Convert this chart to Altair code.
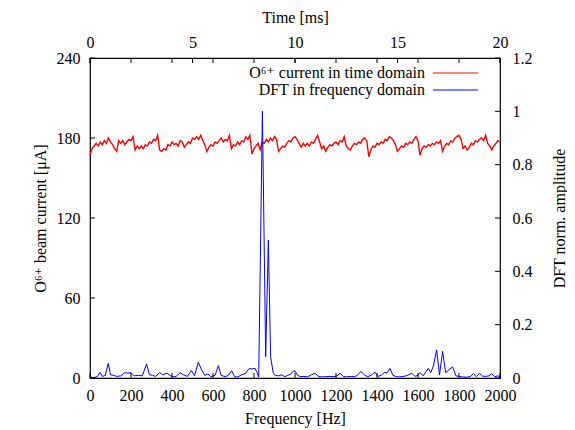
import altair as alt
import pandas as pd

# ---- data ----
time_ms = [
    0.0, 0.1, 0.2, 0.3, 0.4, 0.5, 0.6, 0.7, 0.8, 0.9,
    1.0, 1.1, 1.2, 1.3, 1.4, 1.5, 1.6, 1.7, 1.8, 1.9,
    2.0, 2.1, 2.2, 2.3, 2.4, 2.5, 2.6, 2.7, 2.8, 2.9,
    3.0, 3.1, 3.2, 3.3, 3.4, 3.5, 3.6, 3.7, 3.8, 3.9,
    4.0, 4.1, 4.2, 4.3, 4.4, 4.5, 4.6, 4.7, 4.8, 4.9,
    5.0, 5.1, 5.2, 5.3, 5.4, 5.5, 5.6, 5.7, 5.8, 5.9,
    6.0, 6.1, 6.2, 6.3, 6.4, 6.5, 6.6, 6.7, 6.8, 6.9,
    7.0, 7.1, 7.2, 7.3, 7.4, 7.5, 7.6, 7.7, 7.8, 7.9,
    8.0, 8.1, 8.2, 8.3, 8.4, 8.5, 8.6, 8.7, 8.8, 8.9,
    9.0, 9.1, 9.2, 9.3, 9.4, 9.5, 9.6, 9.7, 9.8, 9.9,
    10.0, 10.1, 10.2, 10.3, 10.4, 10.5, 10.6, 10.7, 10.8, 10.9,
    11.0, 11.1, 11.2, 11.3, 11.4, 11.5, 11.6, 11.7, 11.8, 11.9,
    12.0, 12.1, 12.2, 12.3, 12.4, 12.5, 12.6, 12.7, 12.8, 12.9,
    13.0, 13.1, 13.2, 13.3, 13.4, 13.5, 13.6, 13.7, 13.8, 13.9,
    14.0, 14.1, 14.2, 14.3, 14.4, 14.5, 14.6, 14.7, 14.8, 14.9,
    15.0, 15.1, 15.2, 15.3, 15.4, 15.5, 15.6, 15.7, 15.8, 15.9,
    16.0, 16.1, 16.2, 16.3, 16.4, 16.5, 16.6, 16.7, 16.8, 16.9,
    17.0, 17.1, 17.2, 17.3, 17.4, 17.5, 17.6, 17.7, 17.8, 17.9,
    18.0, 18.1, 18.2, 18.3, 18.4, 18.5, 18.6, 18.7, 18.8, 18.9,
    19.0, 19.1, 19.2, 19.3, 19.4, 19.5, 19.6, 19.7, 19.8, 19.9,
    20.0,
]
current_uA = [
    167, 172, 174, 176, 174, 177, 175, 178, 176, 180,
    177, 175, 172, 170, 178, 176, 178, 175, 177, 179,
    178, 181, 171, 174, 172, 174, 172, 175, 174, 177,
    176, 179, 178, 182, 171, 170, 172, 171, 175, 174,
    177, 175, 176, 174, 178, 177, 173, 175, 177, 176,
    180, 179, 181, 179, 182, 178, 175, 170, 173, 175,
    174, 177, 176, 178, 180, 177, 179, 178, 182, 172,
    175, 174, 177, 175, 178, 177, 181, 179, 182, 168,
    172, 174, 176, 171, 177, 176, 179, 177, 180, 178,
    181, 179, 170, 172, 174, 173, 176, 178, 177, 180,
    181, 179, 176, 173, 176, 174, 176, 174, 177, 176,
    179, 182, 177, 172, 174, 170, 173, 175, 174, 176,
    177, 175, 178, 177, 181, 174, 172, 171, 174, 176,
    175, 177, 176, 179, 180, 178, 166, 171, 174, 173,
    176, 175, 177, 176, 179, 178, 181, 180, 178, 175,
    170, 172, 174, 173, 176, 175, 177, 176, 179, 181,
    178, 167, 172, 174, 173, 175, 174, 176, 175, 177,
    176, 178, 170, 174, 176, 175, 178, 177, 180, 181,
    182, 179, 172, 174, 171, 173, 176, 175, 178, 177,
    179, 180, 178, 182, 176, 174, 171, 174, 176, 178,
    177,
]

freq_hz = [0, 20, 35, 49, 60, 75, 89, 100, 115, 130, 150, 170, 185, 200, 215, 235, 255, 276, 290,
           305, 320, 340, 355, 375, 390, 405, 420, 440, 455, 475, 494, 510, 528, 545, 560, 575,
           590, 610, 626, 640, 660, 675, 691, 705, 720, 740, 760, 775, 790, 805, 815, 823, 841,
           857, 870, 881, 894, 905, 920, 935, 950, 965, 980, 990, 1000, 1010, 1025, 1040, 1060,
           1080, 1098, 1115, 1130, 1150, 1170, 1190, 1205, 1220, 1235, 1250, 1270, 1290, 1305,
           1322, 1340, 1355, 1375, 1390, 1405, 1420, 1435, 1450, 1463, 1478, 1495, 1510, 1530,
           1550, 1570, 1585, 1600, 1610, 1625, 1640, 1650, 1662, 1675, 1691, 1705, 1720, 1735,
           1750, 1769, 1785, 1800, 1815, 1835, 1855, 1870, 1885, 1900, 1915, 1930, 1945, 1960,
           1975, 1990, 2000]
dft_amp = [0.003, 0.002, 0.005, 0.021, 0.006, 0.010, 0.055, 0.012, 0.010, 0.006, 0.008, 0.020,
           0.018, 0.020, 0.008, 0.010, 0.008, 0.053, 0.012, 0.010, 0.006, 0.020, 0.012, 0.018,
           0.010, 0.004, 0.006, 0.020, 0.012, 0.006, 0.028, 0.008, 0.059, 0.030, 0.010, 0.015,
           0.005, 0.010, 0.046, 0.010, 0.005, 0.010, 0.027, 0.005, 0.004, 0.012, 0.018, 0.035,
           0.034, 0.036, 0.020, 0.004, 1.000, 0.080, 0.517, 0.080, 0.018, 0.010, 0.008, 0.012,
           0.005, 0.010, 0.015, 0.025, 0.027, 0.012, 0.005, 0.006, 0.004, 0.012, 0.018, 0.006,
           0.004, 0.005, 0.006, 0.005, 0.008, 0.018, 0.006, 0.004, 0.006, 0.005, 0.010, 0.025,
           0.010, 0.005, 0.012, 0.022, 0.006, 0.010, 0.020, 0.020, 0.036, 0.010, 0.005, 0.004,
           0.006, 0.010, 0.018, 0.006, 0.010, 0.020, 0.008, 0.025, 0.036, 0.020, 0.045, 0.105,
           0.012, 0.100, 0.020, 0.030, 0.042, 0.008, 0.006, 0.004, 0.003, 0.005, 0.016, 0.005,
           0.018, 0.007, 0.006, 0.008, 0.016, 0.005, 0.008, 0.005]

freq_ticks = [0, 200, 400, 600, 800, 1000, 1200, 1400, 1600, 1800, 2000]
time_ticks = [0, 5, 10, 15, 20]
current_ticks = [0, 60, 120, 180, 240]
amp_ticks = [0, 0.2, 0.4, 0.6, 0.8, 1, 1.2]

legend_labels = ["O⁶⁺ current in time domain", "DFT in frequency domain"]
legend_colors = ["#ff0000", "#0000ff"]

# ---- chart ----
W, H = 410, 320
FONT = "Liberation Serif, Times New Roman, DejaVu Serif, serif"
FS = 16
TL = 5

xf = alt.Scale(domain=[0, 2000], nice=False, zero=False)
xt = alt.Scale(domain=[0, 20], nice=False, zero=False)
yc = alt.Scale(domain=[0, 240], nice=False, zero=False)
ya = alt.Scale(domain=[0, 1.2], nice=False, zero=False)

red_df = pd.DataFrame({"t": time_ms, "I": current_uA})
blue_df = pd.DataFrame({"f": freq_hz, "A": dft_amp})

red = alt.Chart(red_df).mark_line(color="#ff0000", strokeWidth=1.4).encode(
    x=alt.X("t:Q", scale=xt, axis=alt.Axis(orient="top", title="Time [ms]", values=time_ticks,
                                             format="d", labelPadding=8, titlePadding=9)),
    y=alt.Y("I:Q", scale=yc, axis=alt.Axis(orient="left", title="O⁶⁺ beam current [μA]",
                                             values=current_ticks, format="d",
                                             labelPadding=10, titlePadding=8)),
)
blue = alt.Chart(blue_df).mark_line(color="#0000ff", strokeWidth=1).encode(
    x=alt.X("f:Q", scale=xf, axis=alt.Axis(orient="bottom", title="Frequency [Hz]", values=freq_ticks,
                                             format="d", labelPadding=9, titlePadding=7)),
    y=alt.Y("A:Q", scale=ya, axis=alt.Axis(orient="right", title="DFT norm. amplitude", values=amp_ticks,
                                             format="~g", labelPadding=12, titlePadding=35,
                                             titleAngle=270)),
)

ft = pd.DataFrame({"f": freq_ticks})
tt = pd.DataFrame({"t": time_ticks})
ct = pd.DataFrame({"I": current_ticks})
at = pd.DataFrame({"A": amp_ticks})

tick_bottom = alt.Chart(ft).mark_rule(color="black").encode(
    x=alt.X("f:Q", scale=xf, axis=None), y=alt.value(H), y2=alt.value(H - TL))
tick_top_f = alt.Chart(ft).mark_rule(color="black").encode(
    x=alt.X("f:Q", scale=xf, axis=None), y=alt.value(0), y2=alt.value(TL))
tick_top_t = alt.Chart(tt).mark_rule(color="black").encode(
    x=alt.X("t:Q", scale=xt, axis=None), y=alt.value(0), y2=alt.value(TL))
tick_left = alt.Chart(ct).mark_rule(color="black").encode(
    y=alt.Y("I:Q", scale=yc, axis=None), x=alt.value(0), x2=alt.value(TL))
tick_right = alt.Chart(at).mark_rule(color="black").encode(
    y=alt.Y("A:Q", scale=ya, axis=None), x=alt.value(W), x2=alt.value(W - TL))

leg_df0 = pd.DataFrame({"label": [legend_labels[0]]})
leg_df1 = pd.DataFrame({"label": [legend_labels[1]]})
leg_text0 = alt.Chart(leg_df0).mark_text(align="right", baseline="middle", font=FONT, fontSize=FS,
                                         color="black").encode(
    text="label:N", x=alt.value(335), y=alt.value(15))
leg_text1 = alt.Chart(leg_df1).mark_text(align="right", baseline="middle", font=FONT, fontSize=FS,
                                         color="black").encode(
    text="label:N", x=alt.value(335), y=alt.value(32))
leg_line0 = alt.Chart(leg_df0).mark_rule(color=legend_colors[0], strokeWidth=1).encode(
    x=alt.value(343), x2=alt.value(388), y=alt.value(15))
leg_line1 = alt.Chart(leg_df1).mark_rule(color=legend_colors[1], strokeWidth=1).encode(
    x=alt.value(343), x2=alt.value(388), y=alt.value(32))

chart = alt.layer(
    red, blue, tick_bottom, tick_top_f, tick_top_t, tick_left, tick_right,
    leg_text0, leg_text1, leg_line0, leg_line1,
).resolve_scale(
    x="independent", y="independent"
).properties(
    width=W, height=H,
    autosize=alt.AutoSizeParams(type="none"),
    padding={"left": 82, "top": 50, "right": 67, "bottom": 50},
    background="white",
).configure_view(
    stroke="black", strokeWidth=1.2
).configure_axis(
    labelFont=FONT, titleFont=FONT, labelFontSize=FS, titleFontSize=FS,
    titleFontWeight="normal", labelColor="black", titleColor="black",
    domain=False, ticks=False, grid=False, labelFlush=False, labelOverlap=False,
)

chart.save("out.html", embed_options={"renderer": "svg", "actions": False})
